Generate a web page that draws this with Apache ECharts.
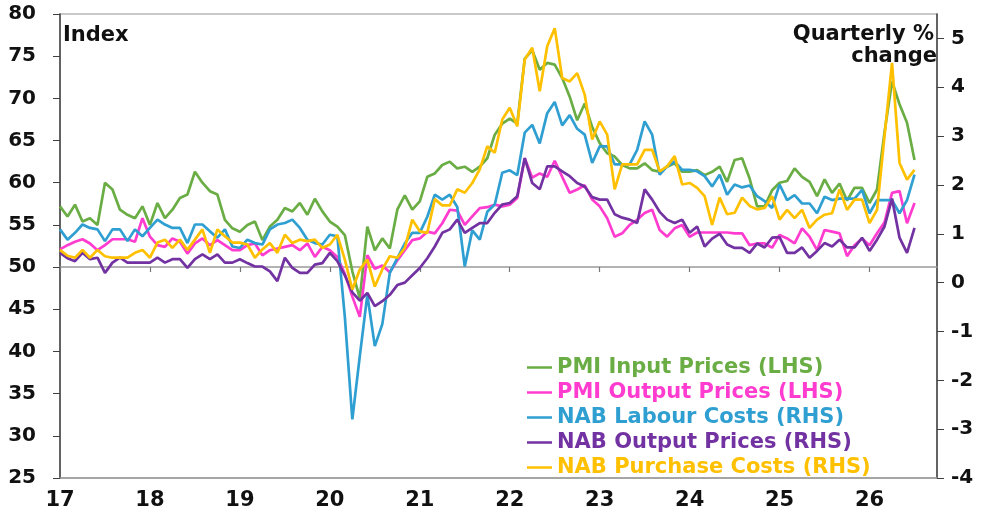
<!DOCTYPE html>
<html>
<head>
<meta charset="utf-8">
<title>PMI and NAB price indicators</title>
<script src="https://cdn.jsdelivr.net/npm/echarts@6/dist/echarts.min.js"></script>
<style>
  html, body { margin: 0; padding: 0; background: #fff; }
  #chart { width: 990px; height: 518px; }
</style>
</head>
<body>
<div id="chart"></div>
<script>
// monthly, Jan 2017 onwards
var pmiInput = [
  57.2, 56.0, 57.4, 55.4, 55.8, 55.0, 60.0, 59.2, 56.8, 56.2, 55.8, 57.2,
  55.0, 57.6, 55.8, 56.8, 58.2, 58.6, 61.3, 60.0, 59.0, 58.6, 55.6, 54.6,
  54.2, 55.0, 55.4, 53.2, 54.8, 55.6, 57.0, 56.6, 57.6, 56.2, 58.1, 56.6,
  55.4, 54.8, 53.8, 49.5, 46.3, 54.8, 52.0, 53.4, 52.2, 56.8, 58.5, 56.8,
  57.8, 60.7, 61.1, 62.1, 62.5, 61.7, 61.9, 61.3, 61.9, 62.9, 65.7, 67.0,
  67.6, 67.0, 74.7, 75.7, 73.4, 74.2, 74.0, 72.4, 70.2, 67.4, 69.4, 66.6,
  64.7, 63.5, 63.1, 62.1, 61.7, 61.7, 62.3, 61.5, 61.3, 61.9, 62.3, 61.3,
  61.3, 61.5, 60.9, 61.3, 61.9, 60.1, 62.7, 62.9, 60.5, 57.2, 57.2, 59.1,
  60.0, 60.2, 61.7, 60.7, 60.1, 58.4, 60.4, 58.8, 59.9, 57.9, 59.4, 59.4,
  57.6, 59.2, 66.0, 72.0, 69.3, 67.1, 62.7
];
var pmiOutput = [
  52.1, 52.6, 53.0, 53.3, 52.8, 52.0, 52.6, 53.3, 53.3, 53.3, 53.0, 55.8,
  53.6, 52.6, 52.4, 53.4, 53.0, 51.6, 52.8, 53.4, 52.6, 53.2, 52.6, 52.0,
  52.0, 52.6, 52.8, 51.4, 52.0, 52.2, 52.4, 52.6, 52.0, 52.8, 51.2, 52.4,
  52.0, 51.2, 49.2, 46.5, 44.1, 51.4, 49.8, 50.2, 49.4, 50.8, 52.0, 53.2,
  53.4, 54.2, 54.0, 55.2, 56.8, 56.7, 55.0, 56.0, 57.0, 57.1, 57.4, 57.2,
  57.4, 58.2, 62.9, 60.6, 61.1, 60.7, 62.6, 60.7, 58.8, 59.2, 59.7, 58.0,
  57.2, 55.8, 53.6, 54.0, 55.0, 55.6, 56.4, 56.8, 54.4, 53.6, 54.6, 55.0,
  53.6, 54.1, 54.1, 54.1, 54.1, 54.1, 54.0, 54.0, 52.6, 52.8, 52.8, 52.3,
  53.8, 53.4, 52.8, 54.6, 53.6, 52.0, 54.4, 54.2, 54.0, 51.3, 52.6, 53.4,
  52.6, 54.0, 55.3, 58.8, 59.0, 55.2, 57.6
];
var nabLabour = [
  1.09, 0.88, 1.02, 1.19, 1.12, 1.09, 0.85, 1.09, 1.09, 0.85, 1.09, 0.95,
  1.12, 1.29, 1.19, 1.12, 1.12, 0.81, 1.19, 1.19, 1.05, 0.92, 1.09, 0.74,
  0.71, 0.88, 0.81, 0.78, 1.09, 1.19, 1.22, 1.29, 1.12, 0.88, 0.81, 0.78,
  0.98, 0.95, -0.70, -2.80, -1.50, -0.25, -1.30, -0.85, 0.20, 0.50, 0.80, 1.02,
  1.02, 1.35, 1.80, 1.70, 1.80, 1.55, 0.33, 1.07, 0.88, 1.45, 1.60, 2.25,
  2.30, 2.20, 3.07, 3.23, 2.85, 3.47, 3.70, 3.22, 3.43, 3.15, 3.03, 2.45,
  2.79, 2.79, 2.42, 2.42, 2.42, 2.72, 3.30, 3.03, 2.21, 2.38, 2.48, 2.31,
  2.31, 2.28, 2.18, 1.97, 2.21, 1.80, 2.01, 1.95, 1.99, 1.77, 1.67, 1.53,
  2.01, 1.69, 1.79, 1.62, 1.62, 1.42, 1.76, 1.69, 1.72, 1.72, 1.72, 1.90,
  1.42, 1.69, 1.69, 1.69, 1.42, 1.69, 2.21
];
var nabOutput = [
  0.61, 0.50, 0.44, 0.61, 0.48, 0.51, 0.20, 0.41, 0.51, 0.41, 0.41, 0.41,
  0.41, 0.51, 0.41, 0.48, 0.48, 0.30, 0.48, 0.58, 0.48, 0.58, 0.41, 0.41,
  0.48, 0.40, 0.33, 0.33, 0.23, 0.03, 0.51, 0.30, 0.20, 0.20, 0.37, 0.40,
  0.61, 0.44, 0.15, -0.20, -0.37, -0.21, -0.48, -0.38, -0.25, -0.05, 0.00, 0.15,
  0.30, 0.50, 0.74, 1.02, 1.09, 1.29, 1.02, 1.12, 1.22, 1.22, 1.43, 1.60,
  1.63, 1.77, 2.55, 2.04, 1.91, 2.38, 2.38, 2.28, 2.18, 2.04, 1.97, 1.75,
  1.70, 1.70, 1.40, 1.33, 1.29, 1.22, 1.91, 1.70, 1.45, 1.29, 1.22, 1.29,
  1.02, 1.15, 0.74, 0.90, 1.00, 0.78, 0.71, 0.71, 0.61, 0.80, 0.72, 0.92,
  0.93, 0.61, 0.61, 0.72, 0.51, 0.65, 0.81, 0.74, 0.88, 0.72, 0.72, 0.92,
  0.65, 0.88, 1.15, 1.72, 0.92, 0.61, 1.12
];
var nabPurchase = [
  0.67, 0.55, 0.51, 0.67, 0.51, 0.67, 0.54, 0.51, 0.51, 0.51, 0.61, 0.67,
  0.51, 0.82, 0.88, 0.71, 0.88, 0.67, 0.88, 1.09, 0.61, 1.09, 0.95, 0.82,
  0.82, 0.78, 0.51, 0.68, 0.81, 0.61, 0.98, 0.81, 0.88, 0.85, 0.88, 0.71,
  0.78, 0.98, 0.47, -0.14, 0.27, 0.47, -0.08, 0.27, 0.54, 0.51, 0.71, 1.29,
  1.05, 1.02, 1.71, 1.58, 1.58, 1.91, 1.84, 2.04, 2.32, 2.79, 2.66, 3.34,
  3.58, 3.20, 4.57, 4.81, 3.92, 4.84, 5.21, 4.19, 4.12, 4.29, 3.85, 2.93,
  3.30, 3.03, 1.91, 2.42, 2.42, 2.42, 2.72, 2.72, 2.28, 2.38, 2.59, 2.01,
  2.04, 1.94, 1.77, 1.18, 1.74, 1.40, 1.43, 1.74, 1.57, 1.50, 1.53, 1.77,
  1.29, 1.49, 1.32, 1.49, 1.12, 1.29, 1.39, 1.42, 1.91, 1.49, 1.70, 1.70,
  1.22, 1.49, 3.00, 4.50, 2.45, 2.11, 2.31
];

var seriesNames = ['PMI Input Prices (LHS)', 'PMI Output Prices (LHS)',
  'NAB Labour Costs (RHS)', 'NAB Output Prices (RHS)', 'NAB Purchase Costs (RHS)'];
var seriesColors = ['#6aad45', '#ff3ccf', '#2f9fd2', '#7232a2', '#ffc000'];
var yearLabels = ['17', '18', '19', '20', '21', '22', '23', '24', '25', '26'];

// month categories Jan 2017 .. Oct 2026
var months = [];
for (var y = 0; y < yearLabels.length; y++) {
  for (var m = 1; m <= 12; m++) {
    if (y === yearLabels.length - 1 && m > 10) break;
    months.push(yearLabels[y] + '-' + (m < 10 ? '0' + m : m));
  }
}

var font = 'DejaVu Sans';
var chart = echarts.init(document.getElementById('chart'));

function line(name, data, color, axis) {
  return {
    name: name, type: 'line', data: data, yAxisIndex: axis,
    showSymbol: false, symbol: 'none',
    lineStyle: { color: color, width: 2.7 },
    itemStyle: { color: color },
    animation: false
  };
}

chart.setOption({
  backgroundColor: '#fff',
  grid: {
    left: 60, right: 53, top: 14, bottom: 40,
    show: true, borderColor: '#b8b8b8', borderWidth: 1.5
  },
  legend: {
    orient: 'vertical', left: 527, top: 357, padding: 0,
    icon: 'rect', itemWidth: 25, itemHeight: 2.5, itemGap: 4,
    textStyle: { fontFamily: font, fontWeight: 'bold', fontSize: 21, lineHeight: 20 },
    data: seriesNames.map(function (n, i) {
      return { name: n, textStyle: { color: seriesColors[i] } };
    })
  },
  xAxis: [{
    type: 'category', data: months, boundaryGap: false,
    axisLine: { show: true, onZero: false, lineStyle: { color: '#999', width: 1.5 } },
    axisTick: { show: false },
    axisLabel: {
      interval: function (i) { return i % 12 === 0; },
      formatter: function (v) { return v.slice(0, 2); },
      color: '#111', fontFamily: font, fontWeight: 'bold', fontSize: 21, margin: 12
    },
    splitLine: { show: false }
  }, {
    // the crossing line at 50 on the left scale
    type: 'category', data: months, boundaryGap: false, position: 'bottom', offset: -211,
    axisLine: { show: true, onZero: false, lineStyle: { color: '#9a9a9a', width: 1.5 } },
    axisTick: { show: true, alignWithLabel: true, interval: 11, length: 5, lineStyle: { color: '#777', width: 1.2 } },
    axisLabel: { show: false, interval: 11 },
    splitLine: { show: false }
  }],
  yAxis: [{
    type: 'value', position: 'left', min: 25, max: 80, interval: 5,
    axisLine: { show: true, lineStyle: { color: '#404040', width: 1.5 } },
    axisTick: { show: true, length: 7, lineStyle: { color: '#404040' } },
    axisLabel: { color: '#111', fontFamily: font, fontWeight: 'bold', fontSize: 20, margin: 24 },
    splitLine: { show: false }
  }, {
    type: 'value', position: 'right', min: -4, max: 5.5, interval: 1,
    axisLine: { show: true, lineStyle: { color: '#404040', width: 1.5 } },
    axisTick: { show: true, length: 7, lineStyle: { color: '#404040' } },
    axisLabel: { color: '#111', fontFamily: font, fontWeight: 'bold', fontSize: 20, margin: 14, showMaxLabel: false },
    splitLine: { show: false }
  }],
  graphic: [
    { type: 'text', left: 63, top: 25, style: { text: 'Index', fill: '#111', font: 'bold 21px "DejaVu Sans"' } },
    { type: 'text', right: 56, top: 24, style: { text: 'Quarterly %', fill: '#111', font: 'bold 21px "DejaVu Sans"' } },
    { type: 'text', right: 53, top: 46, style: { text: 'change', fill: '#111', font: 'bold 21px "DejaVu Sans"' } }
  ],
  series: [
    line(seriesNames[0], pmiInput, seriesColors[0], 0),
    line(seriesNames[1], pmiOutput, seriesColors[1], 0),
    line(seriesNames[2], nabLabour, seriesColors[2], 1),
    line(seriesNames[3], nabOutput, seriesColors[3], 1),
    line(seriesNames[4], nabPurchase, seriesColors[4], 1)
  ]
});
</script>
</body>
</html>
